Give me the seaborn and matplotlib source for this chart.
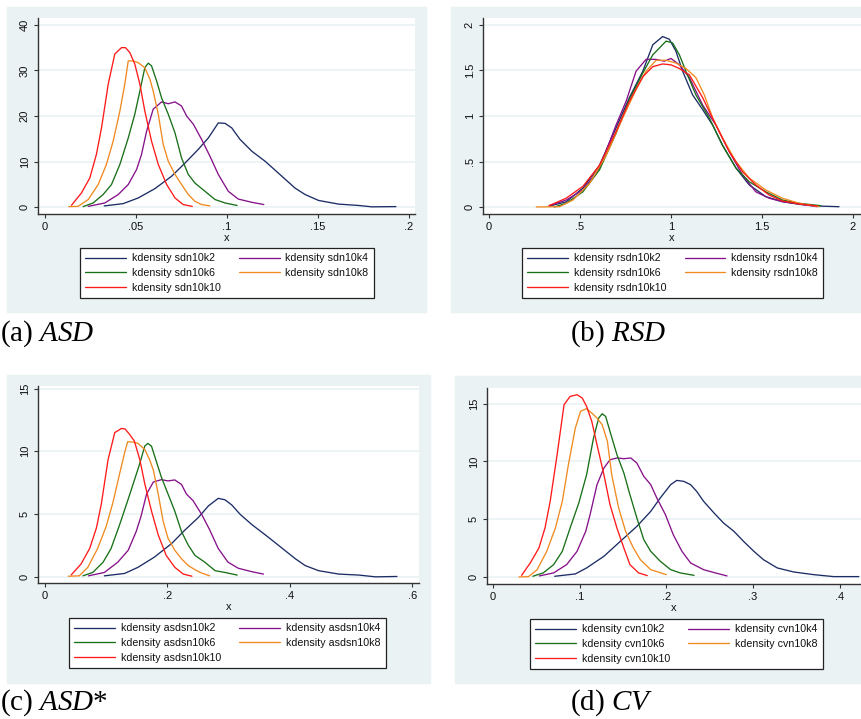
import numpy as np
import pandas as pd
import matplotlib
matplotlib.use("Agg")
import matplotlib.pyplot as plt
from matplotlib.lines import Line2D
from matplotlib.patches import Rectangle
import seaborn as sns

# =============================================================================
# Datos (densidades kernel)
# =============================================================================

# --- (a) ASD ---
sdn_k2_x = [.0327, .0431, .0514, .0606, .0697, .0771, .0844, .0899, .0954, .0991, .1028, .1073,
            .1138, .1211, .1284, .1376, .1431, .1505, .1615, .1725, .1798, .193]
sdn_k2_y = [.3, .8, 2.05, 4.1, 6.8, 9.7, 12.7, 15.2, 18.5, 18.4, 17.4, 14.9,
            12.3, 10.1, 7.5, 4.2, 2.8, 1.5, .7, .4, .1, .15]
sdn_k4_x = [.0239, .0330, .0404, .0459, .0505, .0532, .0560, .0596, .0642, .0679, .0716, .0752,
            .0780, .0817, .0862, .0908, .0954, .1009, .1064, .1138, .1204]
sdn_k4_y = [.2, .95, 2.8, 5.0, 8.3, 11.6, 16.7, 21.5, 23.1, 22.7, 23.1, 22.2,
            20.0, 18.2, 14.9, 11.2, 7.2, 3.5, 1.8, 1.1, .6]
sdn_k6_x = [.0211, .0266, .0321, .0367, .0413, .0459, .0495, .0523, .0550, .0569, .0587, .0615,
            .0642, .0679, .0716, .0752, .0789, .0826, .0881, .0936, .0991, .1057]
sdn_k6_y = [.15, .95, 2.8, 5.0, 9.4, 15.2, 20.4, 25.5, 30.6, 31.6, 31.0, 27.7,
            24.0, 20.4, 16.3, 10.8, 7.2, 5.3, 3.5, 1.7, .95, .4]
sdn_k8_x = [.0132, .0183, .0239, .0294, .0339, .0376, .0413, .0440, .0459, .0486, .0514, .0550,
            .0578, .0596, .0624, .0651, .0679, .0716, .0752, .0789, .0826, .0862, .0908]
sdn_k8_y = [.15, .2, 1.7, 5.0, 9.4, 14.5, 21.1, 27.0, 32.1, 32.1, 31.7, 30.6,
            28.1, 25.5, 20.4, 13.8, 10.1, 7.2, 5.0, 2.8, 1.3, .6, .3]
sdn_k10_x = [.0147, .0202, .0248, .0284, .0312, .0349, .0385, .0422, .0444, .0468, .0495, .0523,
             .0550, .0587, .0624, .0670, .0716, .0761, .0811]
sdn_k10_y = [.45, 3.15, 6.45, 11.6, 17.4, 27.0, 33.6, 35.0, 35.0, 33.9, 31.4, 27.0,
             21.1, 14.5, 9.4, 5.0, 2.05, .6, .2]

# --- (b) RSD ---
rsdn_k2_x = [.333, .424, .516, .607, .698, .771, .845, .900, .954, .991, 1.027, 1.064,
             1.119, 1.174, 1.229, 1.283, 1.357, 1.430, 1.521, 1.612, 1.704, 1.795, 1.923]
rsdn_k2_y = [.015, .06, .21, .46, .87, 1.20, 1.49, 1.78, 1.87, 1.84, 1.71, 1.49,
             1.23, 1.07, .90, .68, .43, .245, .117, .062, .033, .015, .007]
rsdn_k4_x = [.333, .424, .516, .607, .698, .753, .808, .863, .918, .963, 1.000, 1.046,
             1.101, 1.174, 1.247, 1.320, 1.393, 1.466, 1.539, 1.612, 1.704, 1.804]
rsdn_k4_y = [.018, .08, .19, .43, .90, 1.16, 1.49, 1.62, 1.62, 1.60, 1.63, 1.56,
             1.42, 1.12, .90, .61, .355, .17, .10, .062, .037, .007]
rsdn_k6_x = [.360, .424, .516, .607, .698, .771, .845, .900, .973, 1.009, 1.046, 1.082,
             1.137, 1.210, 1.283, 1.357, 1.430, 1.521, 1.612, 1.704, 1.823]
rsdn_k6_y = [.004, .044, .17, .41, .81, 1.18, 1.47, 1.67, 1.82, 1.80, 1.67, 1.49,
             1.23, .98, .68, .43, .28, .17, .08, .044, .018]
rsdn_k8_x = [.260, .388, .461, .552, .644, .735, .808, .863, .918, .973, 1.027, 1.082,
             1.137, 1.183, 1.229, 1.283, 1.357, 1.430, 1.521, 1.612, 1.704, 1.814]
rsdn_k8_y = [.004, .007, .08, .26, .57, .98, 1.29, 1.49, 1.61, 1.61, 1.58, 1.52,
             1.42, 1.23, .98, .76, .50, .32, .19, .10, .044, .007]
rsdn_k10_x = [.329, .424, .516, .607, .698, .771, .845, .900, .954, 1.000, 1.046, 1.101,
              1.174, 1.247, 1.320, 1.393, 1.466, 1.539, 1.612, 1.704, 1.804]
rsdn_k10_y = [.018, .10, .23, .46, .83, 1.16, 1.43, 1.54, 1.57, 1.56, 1.52, 1.45,
              1.20, .90, .61, .39, .245, .135, .07, .037, .015]

# --- (c) ASD* ---
asdsn_k2_x = [.097, .130, .152, .179, .207, .228, .250, .267, .283, .294, .305, .319,
              .338, .360, .381, .409, .425, .447, .480, .513, .540, .575]
asdsn_k2_y = [.08, .27, .76, 1.58, 2.66, 3.70, 4.70, 5.65, 6.25, 6.14, 5.73, 4.97,
              4.16, 3.34, 2.53, 1.44, .90, .49, .22, .14, 0, .03]
asdsn_k4_x = [.071, .097, .119, .136, .149, .157, .166, .177, .190, .201, .212, .223,
              .231, .242, .256, .269, .283, .299, .316, .338, .357]
asdsn_k4_y = [.08, .35, 1.17, 2.12, 3.61, 4.84, 6.60, 7.55, 7.74, 7.64, 7.72, 7.36,
              6.60, 6.06, 4.97, 3.75, 2.26, 1.17, .68, .41, .22]
asdsn_k6_x = [.062, .078, .095, .108, .122, .136, .146, .155, .163, .168, .174, .182,
              .190, .201, .212, .223, .234, .245, .261, .278, .294, .314]
asdsn_k6_y = [.08, .35, 1.17, 2.26, 4.16, 6.20, 7.69, 9.05, 10.41, 10.63, 10.41, 9.18,
              7.96, 6.60, 5.24, 3.61, 2.53, 1.71, 1.17, .49, .35, .14]
asdsn_k8_x = [.038, .056, .070, .086, .100, .111, .122, .130, .135, .144, .152, .163,
              .171, .177, .185, .193, .201, .212, .223, .234, .245, .256, .269]
asdsn_k8_y = [.05, .08, .76, 2.26, 4.02, 5.92, 8.23, 9.86, 10.76, 10.73, 10.63, 10.14,
              9.32, 8.51, 6.60, 4.43, 3.07, 2.12, 1.44, .90, .57, .30, .08]
asdsn_k10_x = [.043, .059, .073, .084, .092, .103, .114, .125, .131, .138, .146, .155,
               .163, .174, .185, .198, .212, .226, .240]
asdsn_k10_y = [.16, 1.03, 2.26, 3.89, 5.79, 9.32, 11.49, 11.82, 11.77, 11.36, 10.82, 9.32,
               7.42, 5.24, 3.34, 1.71, .76, .22, .05]

# --- (d) CV ---
cvn_k2_x = [.0712, .095, .108, .128, .147, .166, .182, .193, .205, .212, .220, .228,
            .235, .243, .255, .266, .278, .289, .301, .312, .328, .347, .370, .393, .422]
cvn_k2_y = [.06, .26, .78, 1.79, 3.09, 4.38, 5.68, 6.84, 7.99, 8.36, 8.28, 7.99,
            7.41, 6.55, 5.54, 4.67, 3.95, 3.09, 2.22, 1.50, .78, .43, .20, .03, .03]
cvn_k4_x = [.0535, .070, .085, .097, .107, .112, .120, .128, .135, .143, .151, .159,
            .166, .174, .182, .189, .199, .208, .218, .228, .243, .258, .270]
cvn_k4_y = [.09, .35, 1.07, 2.22, 3.95, 5.39, 7.99, 9.43, 10.15, 10.30, 10.24, 10.30,
            9.86, 8.71, 7.99, 6.84, 5.39, 3.66, 2.22, 1.21, .63, .32, .09]
cvn_k6_x = [.046, .058, .070, .080, .089, .099, .108, .116, .122, .126, .130, .135,
            .143, .151, .158, .166, .174, .182, .193, .205, .216, .232]
cvn_k6_y = [.06, .35, 1.07, 2.22, 4.24, 6.40, 8.85, 12.03, 13.76, 14.13, 13.90, 12.60,
            10.59, 9.00, 7.12, 5.11, 3.23, 2.22, 1.36, .63, .35, .14]
cvn_k8_x = [.030, .041, .051, .062, .072, .080, .087, .095, .101, .105, .108, .114,
            .120, .126, .132, .137, .145, .153, .162, .170, .182, .200]
cvn_k8_y = [0, .03, .63, 2.22, 4.24, 6.55, 9.72, 12.89, 14.34, 14.48, 14.57, 14.19,
            13.76, 13.18, 11.74, 8.85, 5.97, 3.95, 2.51, 1.50, .63, .20]
cvn_k10_x = [.033, .043, .053, .060, .066, .074, .082, .089, .097, .103, .108, .114,
             .120, .128, .135, .143, .151, .158, .168, .178]
cvn_k10_y = [.14, 1.21, 2.51, 4.24, 6.55, 10.59, 14.91, 15.63, 15.78, 15.49, 14.77, 13.47,
             11.45, 8.85, 6.26, 4.24, 2.51, 1.07, .35, .12]

# Ejes
xt_a, xl_a = [0, .05, .1, .15, .2], ["0", ".05", ".1", ".15", ".2"]
yt_a, yl_a = [0, 10, 20, 30, 40], ["0", "10", "20", "30", "40"]
xt_b, xl_b = [0, .5, 1, 1.5, 2], ["0", ".5", "1", "1.5", "2"]
yt_b, yl_b = [0, .5, 1, 1.5, 2], ["0", ".5", "1", "1.5", "2"]
xt_c, xl_c = [0, .2, .4, .6], ["0", ".2", ".4", ".6"]
yt_c, yl_c = [0, 5, 10, 15], ["0", "5", "10", "15"]
xt_d, xl_d = [0, .1, .2, .3, .4], ["0", ".1", ".2", ".3", ".4"]
yt_d, yl_d = [0, 5, 10, 15], ["0", "5", "10", "15"]

series_k = ["k2", "k4", "k6", "k8", "k10"]
colores = {"k2": "#1c2d66", "k4": "#86118a", "k6": "#187018", "k8": "#f08a20", "k10": "#ff1a1a"}

# =============================================================================
# Estilo
# =============================================================================
sns.set_theme(style="white")
plt.rcParams['font.family'] = ['Liberation Sans', 'DejaVu Sans']
plt.rcParams['mathtext.fontset'] = 'custom'
plt.rcParams['mathtext.rm'] = 'Liberation Serif'
plt.rcParams['mathtext.it'] = 'Liberation Serif:italic'

W, H = 861, 719
fig = plt.figure(figsize=(W / 100, H / 100), dpi=100)
fig.patch.set_facecolor('white')
FONDO = '#eaf2f3'


def rect(l, t, r, b):
    return [l / W, 1 - b / H, (r - l) / W, (b - t) / H]


def panel(caja, fondo, curvas, prefijo, xt, xl, yt, yl, xlim, ylim, leg_pos, letra, titulo, cap_x, cap_y):
    fig.patches.append(Rectangle((fondo[0] / W, 1 - fondo[3] / H),
                                 (fondo[2] - fondo[0]) / W, (fondo[3] - fondo[1]) / H,
                                 transform=fig.transFigure, color=FONDO, zorder=-5))
    ax = fig.add_axes(rect(*caja))
    ax.set_zorder(2)
    ax.set_facecolor('white')
    frames = []
    for k, (xs, ys) in zip(series_k, curvas):
        frames.append(pd.DataFrame({'x': xs, 'y': ys, 'serie': k}))
    df = pd.concat(frames, ignore_index=True)
    sns.lineplot(data=df, x='x', y='y', hue='serie', palette=colores, estimator=None,
                 sort=False, lw=0.95, ax=ax, legend=False)
    ax.set_xlim(*xlim)
    ax.set_ylim(*ylim)
    ax.set_xticks(xt)
    ax.set_xticklabels(xl)
    ax.set_yticks(yt)
    ax.set_yticklabels(yl, rotation=90, va='center')
    ax.yaxis.grid(True, color=FONDO, lw=1.2)
    ax.xaxis.grid(False)
    for s in ['top', 'right']:
        ax.spines[s].set_visible(False)
    for s in ['left', 'bottom']:
        ax.spines[s].set_color('#333333')
        ax.spines[s].set_linewidth(1.0)
    ax.tick_params(axis='both', direction='out', length=3, width=0.8, color='#333333',
                   labelsize=8, labelcolor='#111111', pad=3, left=True, bottom=True)
    ax.set_xlabel('x', fontsize=8, labelpad=0.5, color='#111111')
    ax.set_ylabel('')
    # leyenda (orden de Stata: filas k2/k4, k6/k8, k10)
    orden = ["k2", "k6", "k10", "k4", "k8"]
    handles = [Line2D([], [], color=colores[k], lw=0.95) for k in orden]
    labels = [f"kdensity {prefijo}n10{k}" for k in orden]
    leg = ax.legend(handles, labels, ncol=2, loc='upper left',
                    bbox_to_anchor=(leg_pos[0] / W, 1 - leg_pos[1] / H),
                    bbox_transform=fig.transFigure, fontsize=7.7, frameon=True,
                    fancybox=False, framealpha=1, edgecolor='#222222',
                    handlelength=3.8, handletextpad=0.55, columnspacing=1.7,
                    labelspacing=0.45, borderpad=0.5, borderaxespad=0)
    leg.get_frame().set_linewidth(0.9)
    for t in leg.get_texts():
        t.set_color('#111111')
    fig.text(cap_x / W, 1 - cap_y / H, f"({letra}) $\\mathit{{{titulo}}}$" + ("*" if letra == "c" else ""),
             fontsize=21, family='Liberation Serif', va='baseline', ha='left', color='black')
    return ax


panel((38, 18, 415, 214), (7, 7, 426, 312),
      [(sdn_k2_x, sdn_k2_y), (sdn_k4_x, sdn_k4_y), (sdn_k6_x, sdn_k6_y),
       (sdn_k8_x, sdn_k8_y), (sdn_k10_x, sdn_k10_y)],
      "sd", xt_a, xl_a, yt_a, yl_a, (-0.0037, 0.2035), (-1.47, 41.5),
      (80, 248), "a", "ASD", 0, 341)

panel((483, 18, 861, 214), (451, 7, 861, 312),
      [(rsdn_k2_x, rsdn_k2_y), (rsdn_k4_x, rsdn_k4_y), (rsdn_k6_x, rsdn_k6_y),
       (rsdn_k8_x, rsdn_k8_y), (rsdn_k10_x, rsdn_k10_y)],
      "rsd", xt_b, xl_b, yt_b, yl_b, (-0.033, 2.044), (-0.073, 2.073),
      (522, 248), "b", "RSD", 570, 341)

panel((38, 386, 419, 583), (7, 375, 430, 683),
      [(asdsn_k2_x, asdsn_k2_y), (asdsn_k4_x, asdsn_k4_y), (asdsn_k6_x, asdsn_k6_y),
       (asdsn_k8_x, asdsn_k8_y), (asdsn_k10_x, asdsn_k10_y)],
      "asds", xt_c, xl_c, yt_c, yl_c, (-0.0114, 0.611), (-0.49, 15.2),
      (69, 618), "c", "ASD", 0, 710)

panel((487, 388, 861, 584), (455, 376, 861, 683),
      [(cvn_k2_x, cvn_k2_y), (cvn_k4_x, cvn_k4_y), (cvn_k6_x, cvn_k6_y),
       (cvn_k8_x, cvn_k8_y), (cvn_k10_x, cvn_k10_y)],
      "cv", xt_d, xl_d, yt_d, yl_d, (-0.0069, 0.4246), (-0.61, 16.36),
      (530, 619), "d", "CV", 570, 710)

fig.savefig("out.png", dpi=100)
